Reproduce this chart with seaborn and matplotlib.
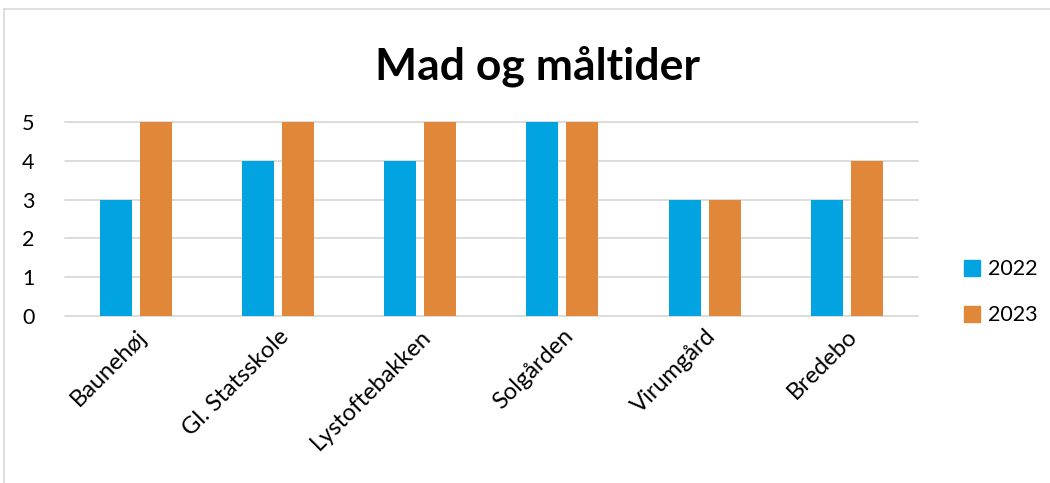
import pandas as pd
import matplotlib.pyplot as plt
import seaborn as sns
from matplotlib.lines import Line2D

# data
categories = ["Baunehøj", "Gl. Statsskole", "Lystoftebakken", "Solgården", "Virumgård", "Bredebo"]
vals_2022 = [3, 4, 4, 5, 3, 3]
vals_2023 = [5, 5, 5, 5, 3, 4]
years = ["2022", "2023"]

df = pd.DataFrame({
    "sted": categories * 2,
    "aar": [years[0]] * len(categories) + [years[1]] * len(categories),
    "score": vals_2022 + vals_2023,
})

sns.set_style("white")
plt.rcParams["font.family"] = ["Lato", "DejaVu Sans"]

colors = {"2022": "#02A3E1", "2023": "#E0873A"}

fig = plt.figure(figsize=(10.5, 4.83), dpi=100)
ax = fig.add_axes([0.062, 0.346, 0.812, 0.401])

sns.barplot(data=df, x="sted", y="score", hue="aar", palette=colors,
            width=0.563, gap=0.2, saturation=1, linewidth=0, ax=ax, legend=False)

ax.set_ylim(0, 5)
ax.set_yticks(range(6))
ax.yaxis.grid(True, color="#d9d9d9", linewidth=1.3)
ax.set_axisbelow(True)
for gl in ax.get_ygridlines():
    gl.set_clip_on(False)
sns.despine(ax=ax, left=True, bottom=True)
ax.tick_params(axis="y", length=0, labelsize=15.5, labelcolor="black", pad=22)
ax.tick_params(axis="x", length=0, labelsize=17, labelcolor="black", pad=7)
ax.set_xlabel("")
ax.set_ylabel("")
ax.set_xticks(range(len(categories)))
ax.set_xticklabels(categories, rotation=45, ha="right", rotation_mode="anchor")

fig.suptitle("Mad og måltider", fontsize=32, fontweight="bold", color="black",
             y=0.905, x=0.512)

handles = [Line2D([], [], marker="s", linestyle="", markersize=11, color=colors[y]) for y in years]
fig.legend(handles, years, loc="center left", bbox_to_anchor=(0.897, 0.395),
           frameon=False, fontsize=15.5, labelspacing=1.2, handletextpad=0.25,
           handlelength=1.0, labelcolor="black")

# chart frame
fig.add_artist(Line2D([0.004, 0.004], [0.0, 0.981], color="#d9d9d9", lw=1.2))
fig.add_artist(Line2D([0.004, 1.0], [0.981, 0.981], color="#d9d9d9", lw=1.2))

fig.savefig("out.png", dpi=100)
